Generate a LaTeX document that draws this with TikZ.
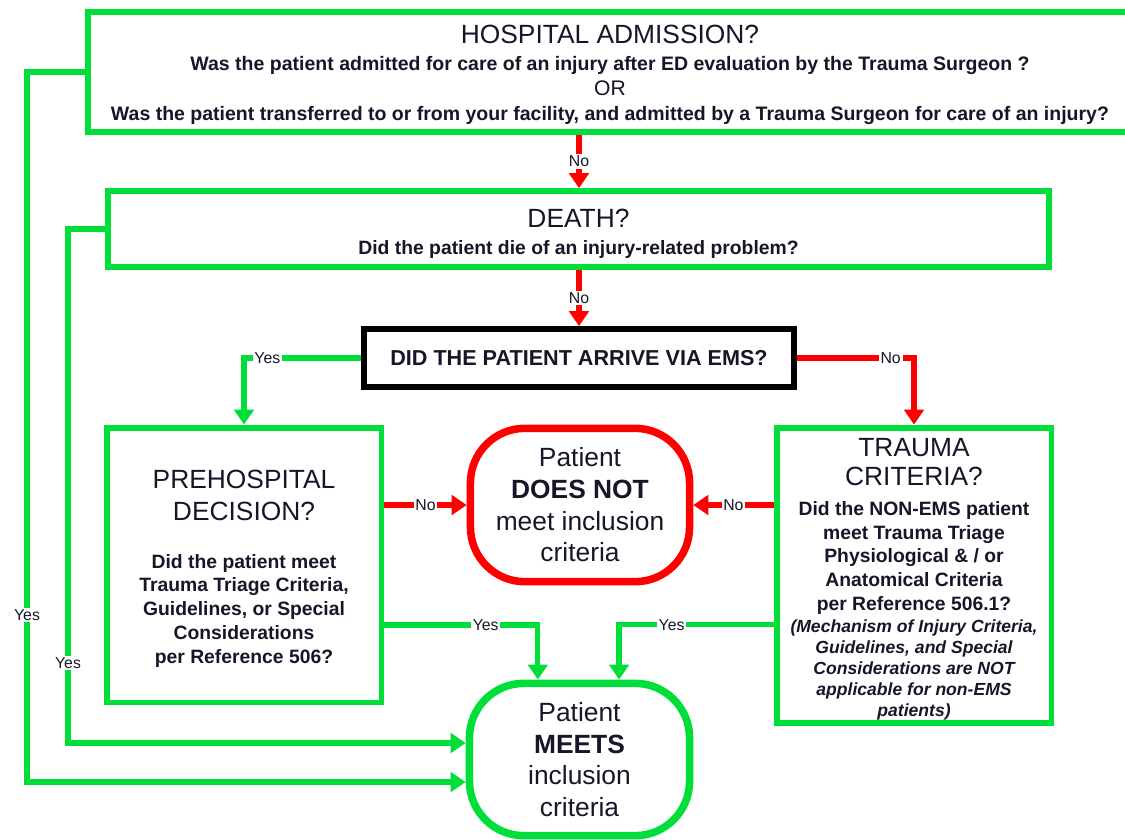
\documentclass[tikz,border=0pt]{standalone}
\usepackage{fontspec}
\setmainfont{Liberation Sans}
\usetikzlibrary{arrows.meta,calc}
\definecolor{gr}{RGB}{0,222,58}
\definecolor{rd}{RGB}{255,0,0}
\definecolor{tx}{RGB}{22,22,40}
\newcommand\fs[2]{\fontsize{#1}{#2}\selectfont}
\begin{document}
\begin{tikzpicture}[x=0.02cm,y=-0.02cm,
  box/.style={draw=gr, line width=3.4pt, inner sep=0pt, text=tx},
  oval/.style={line width=4.3pt, rounded corners=31pt, inner sep=0pt, align=center,
    font=\fontsize{15}{18}\selectfont, text=tx},
  gline/.style={draw=gr, line width=3pt, -{Triangle[width=11pt,length=8.5pt]}},
  rline/.style={draw=rd, line width=3pt, -{Triangle[width=11pt,length=8.5pt]}},
  lbl/.style={fill=white, inner sep=1pt, font=\fontsize{9}{10}\selectfont, text=tx},
]
\useasboundingbox (0,0) rectangle (1125,839);

% boxes
\node[box, minimum width=594pt, minimum height=68pt] (hosp) at (610,72)
  {\parbox{590pt}{\centering
   \vspace*{3.4pt}
   \fs{15}{18}HOSPITAL ADMISSION?\par
   \fs{11.1}{15.3}\bfseries Was the patient admitted for care of an injury after ED evaluation by the Trauma Surgeon ?\par
   \fs{12}{14.2}\mdseries OR\par
   \fs{11.1}{14.7}\bfseries Was the patient transferred to or from your facility, and admitted by a Trauma Surgeon for care of an injury?\par}};

\node[box, minimum width=535.7pt, minimum height=43.1pt] (death) at (578.5,229)
  {\parbox{520pt}{\centering
   \vspace*{5.7pt}
   \fs{15}{18}DEATH?\par
   \fs{11}{15.5}\bfseries Did the patient die of an injury-related problem?\par}};

\node[draw=black, line width=3.4pt, inner sep=0pt, text=tx,
  minimum width=244.9pt, minimum height=32.9pt,
  font=\fontsize{12.3}{14}\selectfont\bfseries] (ems) at (579,358)
  {DID THE PATIENT ARRIVE VIA EMS?};

\node[box, minimum width=156.5pt, minimum height=156.5pt] (pre) at (244,565)
  {\parbox{150pt}{\centering
   \vspace*{4.5pt}
   \fs{15}{18}PREHOSPITAL\\DECISION?\par
   \vspace{13.6pt}
   \fs{11}{13.6}\bfseries Did the patient meet\\
   Trauma Triage Criteria,\\
   Guidelines, or Special\\
   Considerations\\
   per Reference 506?\par}};

\node[box, minimum width=156.5pt, minimum height=168.4pt] (trauma) at (914,575.5)
  {\parbox{152pt}{\centering
   \vspace*{4pt}
   \fs{15}{16.6}TRAUMA\\CRITERIA?\par
   \fs{11}{17}\bfseries Did the NON-EMS patient\par
   \fs{11}{13.6}meet Trauma Triage\\
   Physiological \& / or\\
   Anatomical Criteria\\
   per Reference 506.1?\par
   \fs{10}{12.5}\itshape (Mechanism of Injury Criteria,\par
   \fs{10}{11.9}Guidelines, and Special\\
   Considerations are NOT\\
   applicable for non-EMS\\
   patients)\par}};

\node[oval, draw=rd, minimum width=124.7pt, minimum height=87.3pt] (notmeet) at (580,505)
  {Patient\\\textbf{DOES NOT}\\meet inclusion\\criteria};
\node[oval, draw=gr, minimum width=125.3pt, minimum height=86.7pt] (meets) at (579.5,759.5)
  {Patient\\\textbf{MEETS}\\inclusion\\criteria};

% connectors
\draw[rline] (hosp.south -| ems.north) -- node[lbl]{No} (death.north -| ems.north);
\draw[rline] (death.south -| ems.north) -- node[lbl]{No} (ems.north);
\draw[gline] (ems.west) -| node[lbl,pos=0.4]{Yes} (pre.north);
\draw[rline] (ems.east) -| node[lbl,pos=0.4]{No} (trauma.north);
\draw[rline] (pre.east |- notmeet.west) -- node[lbl]{No} (notmeet.west);
\draw[rline] (trauma.west |- notmeet.east) -- node[lbl]{No} (notmeet.east);

\coordinate (py) at ($(pre.south east)!0.286!(pre.north east)$);
\coordinate (pm) at ($(meets.north west)!0.317!(meets.north east)$);
\draw[gline] (py) -| node[lbl,pos=0.33]{Yes} (pm);
\coordinate (ty) at ($(trauma.south west)!0.337!(trauma.north west)$);
\coordinate (tm) at ($(meets.north west)!0.674!(meets.north east)$);
\draw[gline] (ty) -| node[lbl,pos=0.33]{Yes} (tm);

\coordinate (h1) at (27,72);
\coordinate (h2) at (27,782);
\draw[gline] (hosp.west) -- (h1) -- node[lbl,pos=0.765]{Yes} (h2) -- (h2 -| meets.west);
\coordinate (d1) at (68,229);
\coordinate (d2) at (68,743);
\draw[gline] (death.west) -- (d1) -- node[lbl,pos=0.844]{Yes} (d2) -- (d2 -| meets.west);
\end{tikzpicture}
\end{document}
